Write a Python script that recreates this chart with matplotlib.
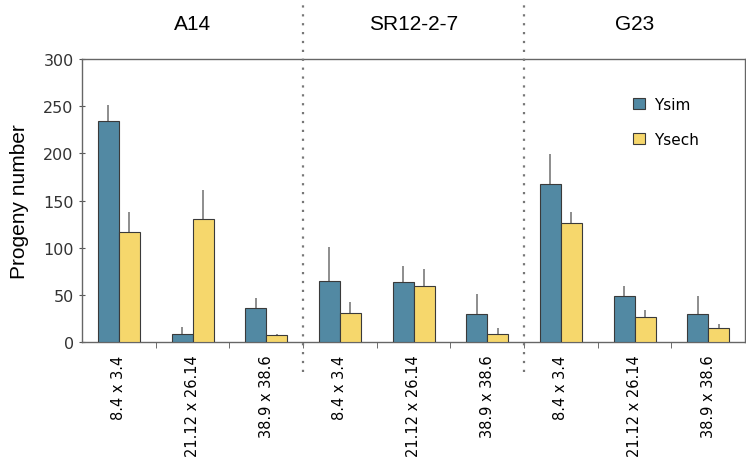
import numpy as np
import matplotlib
matplotlib.use("Agg")
import matplotlib.pyplot as plt

# data
groups = ["A14", "SR12-2-7", "G23"]
sizes = ["8.4 x 3.4", "21.12 x 26.14", "38.9 x 38.6"]
ysim = [234, 8, 36, 65, 64, 30, 168, 49, 30]
ysim_err = [17, 8, 11, 36, 17, 21, 31, 10, 19]
ysech = [117, 130, 7, 31, 59, 9, 126, 27, 15]
ysech_err = [21, 31, 2, 11, 18, 6, 12, 7, 4]

blue = "#5289a3"
yellow = "#f6d76c"
edge = "#3a3a3a"

fig = plt.figure(figsize=(7.46, 4.6), dpi=100)
ax = fig.add_axes([0.110, 0.2543, 0.8887, 0.6153])

x = np.arange(len(ysim))
w = 0.285
ax.bar(x - w / 2, ysim, w, color=blue, edgecolor=edge, linewidth=0.8, label="Ysim", zorder=3)
ax.bar(x + w / 2, ysech, w, color=yellow, edgecolor=edge, linewidth=0.8, label="Ysech", zorder=3)

# upper error bars only, no caps
ax.vlines(x - w / 2, ysim, np.array(ysim) + np.array(ysim_err), color="#7a7a7a", lw=1.2, zorder=2)
ax.vlines(x + w / 2, ysech, np.array(ysech) + np.array(ysech_err), color="#7a7a7a", lw=1.2, zorder=2)

ax.set_xlim(-0.5, 8.5)
ax.set_ylim(0, 300)
ax.set_yticks([0, 50, 100, 150, 200, 250, 300])
ax.tick_params(axis="y", labelsize=11.5, length=5, direction="inout", color="#555555", colors="#333333")
ax.set_ylabel("Progeny number", fontsize=15, family="Liberation Sans", labelpad=10)

ax.set_xticks(x)
ax.set_xticklabels(sizes * 3, rotation=90, fontsize=10.5)
ax.tick_params(axis="x", length=0, pad=9)
ax.set_xticks(np.arange(0.5, 8, 1), minor=True)
ax.tick_params(axis="x", which="minor", length=4, direction="out", color="#555555")

for s in ax.spines.values():
    s.set_color("#666666")
    s.set_linewidth(1.0)

# dotted separators between strains
for xs in [2.5, 5.5]:
    ax.plot([xs, xs], [-0.106, 1.21], transform=ax.get_xaxis_transform(),
            ls=(0, (1, 3)), color="#777777", lw=1.6, clip_on=False, zorder=4)

for i, g in enumerate(groups):
    ax.text(3 * i + 1, 1.125, g, transform=ax.get_xaxis_transform(),
            ha="center", va="center", fontsize=15, family="Liberation Sans")

ax.legend(loc="upper left", bbox_to_anchor=(0.819, 0.893), frameon=False, borderpad=0,
          fontsize=11, handlelength=0.8, handleheight=0.8, handletextpad=0.6,
          labelspacing=1.3)

fig.savefig("out.png", dpi=100)
